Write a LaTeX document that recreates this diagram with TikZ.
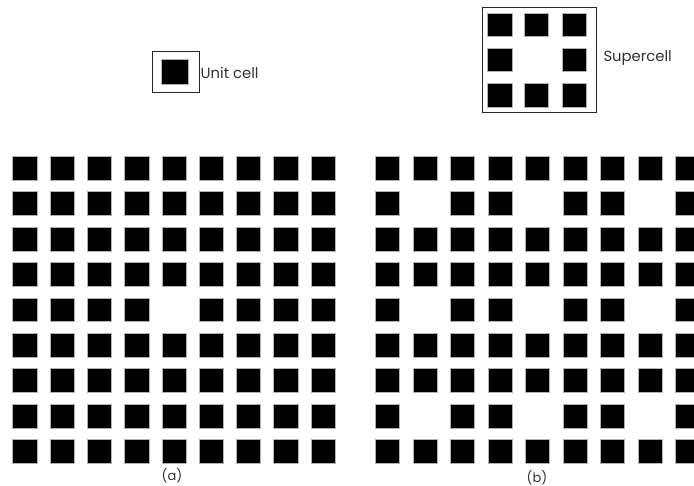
\documentclass[tikz,border=0pt]{standalone}
\usepackage{fontspec}
\setmainfont{Poppins}
\begin{document}
\begin{tikzpicture}[x=1pt,y=-1pt,
 cell/.style={draw=gray!60, fill=black, line width=0.6pt, minimum width=24.3pt, minimum height=23.8pt, inner sep=0pt, anchor=north west},
 frame/.style={draw=black!85, line width=0.8pt, inner sep=0pt, anchor=north west},
 lbl/.style={font=\fontsize{14.8}{17}\selectfont, inner sep=0pt, text=black!80},
 captxt/.style={font=\fontsize{13}{15}\selectfont, inner sep=0pt, text=black!80}]
\useasboundingbox (0,0) rectangle (694,486);
% left grid (a)
\foreach \r in {0,...,8}{\foreach \c in {0,...,8}{
  \pgfmathtruncatemacro{\isgap}{(\r==4 && \c==4) ? 1 : 0}
  \ifnum\isgap=0 \node[cell] (a\r\c) at ({12.3+37.3*\c},{156+35.4*\r}) {}; \fi
}}
% right grid (b)
\foreach \r in {0,...,8}{\foreach \c in {0,...,8}{
  \pgfmathtruncatemacro{\isgap}{(mod(\r,3)==1 && mod(\c,3)==1) ? 1 : 0}
  \ifnum\isgap=0 \node[cell] (b\r\c) at ({375+37.5*\c},{156+35.4*\r}) {}; \fi
}}
% unit cell
\node[frame, minimum width=46.7pt, minimum height=40.7pt] (ucbox) at (152.3,51) {};
\node[cell, minimum width=26.7pt, minimum height=25.3pt] (uc) at (161,59) {};
\node[lbl, anchor=west] (uclbl) at (200.5,73) {Unit cell};
% supercell
\node[frame, minimum width=113.4pt, minimum height=105pt] (scbox) at (482.3,6.7) {};
\foreach \r/\y in {0/12.7,1/47.7,2/83.3}{\foreach \c/\x in {0/487.3,1/524,2/561.7}{
  \pgfmathtruncatemacro{\isgap}{(\r==1 && \c==1) ? 1 : 0}
  \ifnum\isgap=0 \node[cell, minimum width=24.4pt, minimum height=23.6pt] (s\r\c) at (\x,\y) {}; \fi
}}
\node[lbl, anchor=west] (sclbl) at (603.3,58) {Supercell};
% captions
\node[captxt] (capa) at (172,475.5) {(a)};
\node[captxt] (capb) at (537,477.5) {(b)};
\end{tikzpicture}
\end{document}
